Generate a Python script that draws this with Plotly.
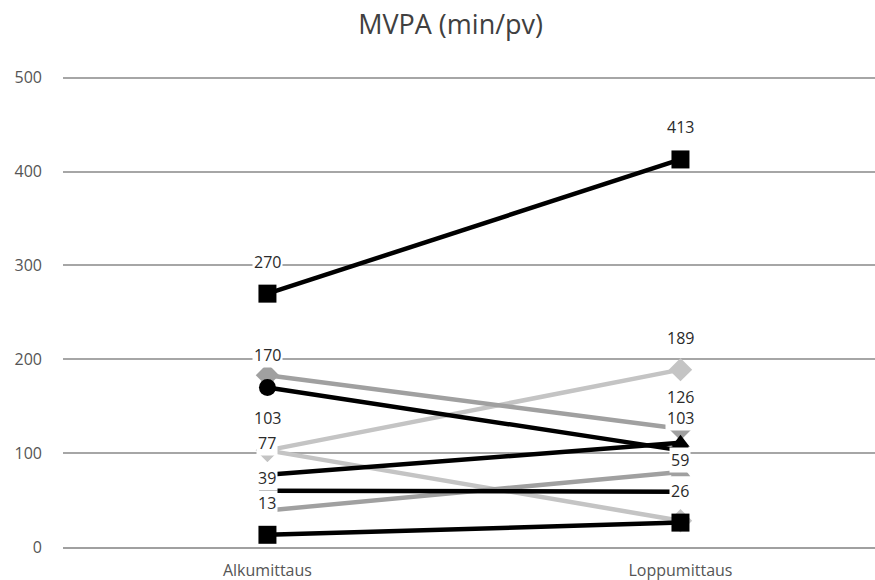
import plotly.graph_objects as go

# Measurement points (x categories)
categories = ["Alkumittaus", "Loppumittaus"]

# MVPA minutes per day for each participant, start -> end
p_square_top = [270, 413]
p_diamond_mid = [183, 126]
p_circle_top = [170, 103]
p_diamond_up = [103, 189]
p_diamond_down = [103, 28]
p_triangle_black = [77, 111]
p_circle_low = [60, 59]
p_triangle_gray = [39, 80]
p_square_low = [13, 26]

# Which points carry a value label
label_square_top = [True, True]
label_diamond_mid = [False, True]
label_circle_top = [True, True]
label_diamond_up = [True, True]
label_diamond_down = [False, False]
label_triangle_black = [True, False]
label_circle_low = [False, True]
label_triangle_gray = [True, False]
label_square_low = [True, True]

y_ticks = [0, 100, 200, 300, 400, 500]

LIGHT = "#c4c4c4"
MID = "#a0a0a0"
BLACK = "#000000"

series = [
    (p_diamond_down, label_diamond_down, LIGHT, "diamond", 18),
    (p_diamond_up, label_diamond_up, LIGHT, "diamond", 18),
    (p_diamond_mid, label_diamond_mid, MID, "diamond", 18),
    (p_triangle_gray, label_triangle_gray, MID, "triangle-up", 17),
    (p_circle_top, label_circle_top, BLACK, "circle", 17),
    (p_circle_low, label_circle_low, BLACK, "circle", 17),
    (p_triangle_black, label_triangle_black, BLACK, "triangle-up", 16),
    (p_square_low, label_square_low, BLACK, "square", 18),
    (p_square_top, label_square_top, BLACK, "square", 18),
]

fig = go.Figure()
annotations = []
for values, labels, color, symbol, size in series:
    fig.add_trace(go.Scatter(
        x=categories, y=values, mode="lines+markers",
        line=dict(color=color, width=4.5),
        marker=dict(symbol=symbol, size=size, color=color),
        showlegend=False, hoverinfo="skip",
    ))
    for cat, val, show in zip(categories, values, labels):
        if show:
            annotations.append(dict(
                x=cat, y=val, text=str(val), showarrow=False, yshift=32,
                font=dict(family="Open Sans", size=16, color="#2a2a2a"),
                bgcolor="#ffffff", borderpad=1,
            ))

fig.update_layout(
    width=875, height=580,
    margin=dict(l=63, r=0, t=75, b=33),
    paper_bgcolor="white", plot_bgcolor="white",
    title=dict(text="MVPA (min/pv)", x=0.515, xanchor="center", y=0.958, yanchor="middle",
               font=dict(family="Open Sans", size=27, color="#404040")),
    annotations=annotations,
    xaxis=dict(
        type="category", range=[-0.495, 1.471],
        showgrid=False, showline=True, linecolor="#a0a0a0", linewidth=2,
        ticks="", tickfont=dict(family="Open Sans", size=16, color="#555555"),
        ticklabelstandoff=8, zeroline=False, fixedrange=True,
    ),
    yaxis=dict(
        range=[0, 503], tickvals=y_ticks, showgrid=True, gridcolor="#a6a6a6", gridwidth=1.5,
        zeroline=False, showline=False, ticks="",
        tickfont=dict(family="Open Sans", size=16, color="#555555"),
        ticklabelstandoff=20, fixedrange=True,
    ),
)

fig.write_html("out.html")
